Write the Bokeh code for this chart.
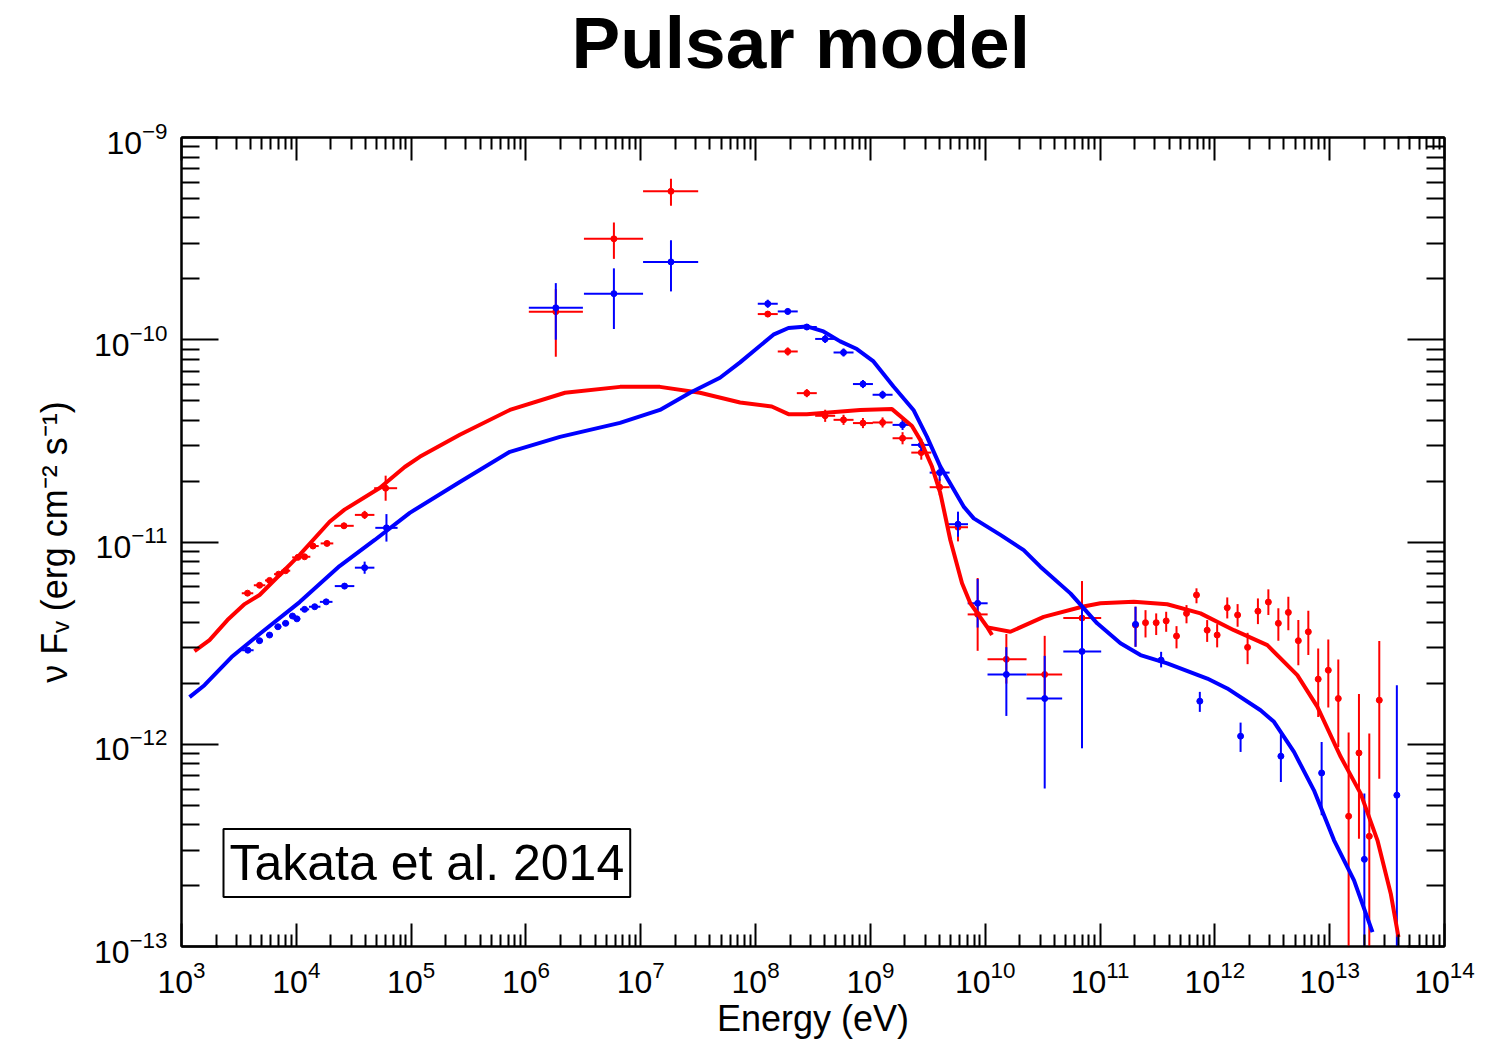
import numpy as np
from bokeh.plotting import figure
from bokeh.models import (FixedTicker, LogTickFormatter, LogAxis, Label)
from bokeh.embed import file_html
from bokeh.resources import INLINE

FONT = "Liberation Sans"
RED = "#FF0000"
BLUE = "#0000FF"

# ---------------- data (log10 values) ----------------
# X-ray (red)
xr_red_logE = [3.575, 3.68, 3.767, 3.846, 3.907, 4.014, 4.072, 4.145, 4.267, 4.415, 4.595, 4.778]
xr_red_logF = [-11.253, -11.214, -11.19, -11.159, -11.142, -11.076, -11.073, -11.02, -11.007, -10.92, -10.866, -10.734]
xr_red_dE = [0.05, 0.05, 0.04, 0.04, 0.04, 0.05, 0.05, 0.05, 0.055, 0.085, 0.085, 0.1]
xr_red_dF = [0.008, 0.008, 0.008, 0.008, 0.01, 0.01, 0.01, 0.012, 0.012, 0.015, 0.02, 0.062]
# X-ray (blue)
xr_blue_logE = [3.578, 3.68, 3.767, 3.84, 3.907, 3.967, 4.005, 4.072, 4.16, 4.26, 4.42, 4.595, 4.785]
xr_blue_logF = [-11.535, -11.488, -11.46, -11.419, -11.402, -11.366, -11.38, -11.333, -11.32, -11.296, -11.218, -11.127, -10.93]
xr_blue_dE = [0.05, 0.03, 0.03, 0.03, 0.03, 0.03, 0.03, 0.04, 0.05, 0.055, 0.085, 0.085, 0.097]
xr_blue_dF = [0.008, 0.008, 0.008, 0.008, 0.008, 0.008, 0.008, 0.01, 0.01, 0.012, 0.015, 0.03, 0.068]

# MeV
mev_logE = [6.26, 6.766, 7.263]
mev_logE_lo = [6.025, 6.505, 7.02]
mev_logE_hi = [6.496, 7.02, 7.5]
mev_red_logF = [-9.861, -9.501, -9.266]
mev_red_lo = [-10.084, -9.60, -9.337]
mev_red_hi = [-9.75, -9.42, -9.204]
mev_blue_logF = [-9.842, -9.772, -9.615]
mev_blue_lo = [-10.0, -9.947, -9.761]
mev_blue_hi = [-9.72, -9.647, -9.508]

# GeV
lat_logE = [8.106, 8.28, 8.446, 8.606, 8.766, 8.935, 9.106, 9.28, 9.443, 9.603, 9.763, 9.934]
lat_dE = [0.087, 0.087, 0.087, 0.087, 0.087, 0.087, 0.087, 0.087, 0.087, 0.087, 0.087, 0.087]
lat_blue_logF = [-9.822, -9.86, -9.937, -9.996, -10.063, -10.219, -10.272, -10.421, -10.52, -10.657, -10.912, -11.303]
lat_blue_dF = [0.02, 0.015, 0.015, 0.02, 0.02, 0.02, 0.02, 0.025, 0.03, 0.04, 0.062, 0.12]
lat_red_logF = [-9.873, -10.058, -10.264, -10.376, -10.396, -10.412, -10.409, -10.487, -10.558, -10.729, -10.927, -11.358]
lat_red_dF = [0.015, 0.02, 0.02, 0.03, 0.025, 0.025, 0.025, 0.03, 0.035, 0.04, 0.07, 0.18]

# high-energy GeV bins
hl_logE = [10.184, 10.518, 10.843]
hl_logE_lo = [10.02, 10.36, 10.68]
hl_logE_hi = [10.36, 10.67, 11.01]
hl_blue_logF = [-11.655, -11.774, -11.541]
hl_blue_lo = [-11.86, -12.219, -12.02]
hl_blue_hi = [-11.52, -11.563, -11.32]
hl_red_logF = [-11.58, -11.655, -11.376]
hl_red_lo = [-11.70, -11.78, -11.55]
hl_red_hi = [-11.455, -11.464, -11.193]

# TeV (red)
tev_red_logE = [11.309, 11.396, 11.489, 11.576, 11.666, 11.753, 11.84, 11.933, 12.02, 12.108, 12.198, 12.285,
                12.375, 12.466, 12.553, 12.64, 12.727, 12.814, 12.9, 12.988, 13.075, 13.165, 13.255, 13.345, 13.432]
tev_red_logF = [-11.411, -11.399, -11.399, -11.39, -11.465, -11.353, -11.262, -11.436, -11.46, -11.325, -11.361,
                -11.521, -11.342, -11.297, -11.402, -11.348, -11.488, -11.444, -11.678, -11.634, -11.774, -12.356,
                -12.043, -12.455, -11.782]
tev_red_lo = [-11.518, -11.472, -11.46, -11.444, -11.526, -11.402, -11.303, -11.494, -11.521, -11.378, -11.419,
              -11.604, -11.406, -11.361, -11.488, -11.436, -11.609, -11.559, -11.865, -11.818, -12.013, -13.5,
              -12.467, -13.5, -12.17]
tev_red_hi = [-11.32, -11.337, -11.353, -11.345, -11.416, -11.312, -11.229, -11.386, -11.406, -11.274, -11.307,
              -11.449, -11.279, -11.234, -11.328, -11.271, -11.386, -11.34, -11.526, -11.482, -11.581, -11.942,
              -11.752, -11.947, -11.49]
# TeV (blue)
tev_blue_logE = [11.309, 11.532, 11.869, 12.224, 12.575, 12.93, 13.302, 13.585]
tev_blue_logF = [-11.407, -11.584, -11.787, -11.96, -12.059, -12.142, -12.569, -12.252]
tev_blue_lo = [-11.518, -11.62, -11.84, -12.038, -12.187, -12.351, -13.5, -13.5]
tev_blue_hi = [-11.32, -11.543, -11.741, -11.893, -11.95, -11.989, -12.244, -11.708]

# Model curves
red_model1_logE = [3.113, 3.244, 3.40, 3.55, 3.68, 3.854, 4.029, 4.29, 4.42, 4.726, 4.944, 5.075, 5.424, 5.86,
                   6.34, 6.82, 7.167, 7.516, 7.865, 8.141, 8.286, 8.446, 8.911, 9.188, 9.362, 9.434, 9.536,
                   9.609, 9.696, 9.798, 9.87, 10.015, 10.059]
red_model1_logF = [-11.54, -11.485, -11.386, -11.307, -11.262, -11.163, -11.064, -10.90, -10.84, -10.733, -10.629,
                   -10.579, -10.47, -10.347, -10.262, -10.233, -10.233, -10.262, -10.31, -10.33, -10.368, -10.368,
                   -10.347, -10.343, -10.426, -10.495, -10.627, -10.758, -10.99, -11.204, -11.303, -11.419, -11.46]
red_model2_logE = [10.021, 10.219, 10.509, 10.844, 11.003, 11.294, 11.585, 11.875, 12.166, 12.457, 12.718, 12.893,
                   13.096, 13.27, 13.416, 13.532, 13.599]
red_model2_logF = [-11.422, -11.444, -11.37, -11.32, -11.303, -11.295, -11.308, -11.353, -11.436, -11.51, -11.658,
                   -11.815, -12.062, -12.244, -12.475, -12.739, -12.953]
blue_model_logE = [3.07, 3.2, 3.436, 3.68, 4.029, 4.377, 4.683, 4.988, 5.424, 5.86, 6.296, 6.819, 7.167, 7.429,
                   7.69, 7.865, 8.155, 8.286, 8.446, 8.591, 8.737, 8.882, 9.027, 9.201, 9.375, 9.492, 9.609, 9.812,
                   9.9, 10.132, 10.335, 10.48, 10.742, 10.975, 11.178, 11.352, 11.585, 11.934, 12.108, 12.398,
                   12.515, 12.689, 12.863, 13.038, 13.212, 13.373]
blue_model_logF = [-11.767, -11.708, -11.569, -11.455, -11.297, -11.119, -10.99, -10.856, -10.703, -10.554, -10.48,
                   -10.411, -10.347, -10.262, -10.188, -10.112, -9.975, -9.942, -9.934, -9.959, -10.008, -10.046,
                   -10.107, -10.231, -10.347, -10.479, -10.627, -10.825, -10.883, -10.965, -11.04, -11.122, -11.254,
                   -11.402, -11.501, -11.559, -11.6, -11.675, -11.724, -11.832, -11.889, -12.038, -12.228, -12.475,
                   -12.673, -12.929]

decades_x = list(range(3, 15))
decades_y = list(range(-13, -8))

# ---------------- figure ----------------
p = figure(width=1485, height=1051, x_axis_type="log", y_axis_type="log",
           x_range=(1e3, 1e14), y_range=(1e-13, 1e-9),
           output_backend="svg", toolbar_location=None,
           min_border_left=181, min_border_right=41, min_border_top=137, min_border_bottom=105)
p.background_fill_color = "white"
p.border_fill_color = "white"
p.outline_line_color = "black"
p.outline_line_width = 2
p.xgrid.visible = False
p.ygrid.visible = False

p.title.text = "Pulsar model"
p.title.text_font = FONT
p.title.text_font_style = "bold"
p.title.text_font_size = "73px"
p.title.text_color = "black"
p.title.align = "left"
p.title.offset = 390
p.title.standoff = -3

xmaj = [10.0 ** k for k in decades_x]
ymaj = [10.0 ** k for k in decades_y]
xmin = [m * 10.0 ** k for k in decades_x[:-1] for m in range(2, 10)]
ymin = [m * 10.0 ** k for k in decades_y[:-1] for m in range(2, 10)]
xticker = FixedTicker(ticks=xmaj, minor_ticks=xmin)
yticker = FixedTicker(ticks=ymaj, minor_ticks=ymin)


def style_axis(ax, maj, mnr, show_labels, size):
    ax.major_tick_in = maj
    ax.major_tick_out = 0
    ax.minor_tick_in = mnr
    ax.minor_tick_out = 0
    ax.major_tick_line_width = 2
    ax.minor_tick_line_width = 2
    ax.axis_line_width = 2
    ax.major_tick_line_color = "black"
    ax.minor_tick_line_color = "black"
    ax.axis_line_color = "black"
    if show_labels:
        ax.major_label_text_font = FONT
        ax.major_label_text_font_size = size
        ax.major_label_text_color = "black"
    else:
        ax.major_label_text_font_size = "0px"
        ax.major_label_text_color = None
        ax.major_label_standoff = 0


xa = p.xaxis[0]
xa.ticker = xticker
xa.formatter = LogTickFormatter()
style_axis(xa, 23, 12, True, "32px")
xa.major_label_standoff = 14
xa.axis_label = "Energy (eV)"
xa.axis_label_text_font = FONT
xa.axis_label_text_font_size = "36px"
xa.axis_label_text_font_style = "normal"
xa.axis_label_text_color = "black"
xa.axis_label_standoff = 2

ya = p.yaxis[0]
ya.ticker = yticker
ya.formatter = LogTickFormatter()
style_axis(ya, 37, 18, True, "32px")
ya.major_label_standoff = 14
ya.axis_label = "\u03bd F\u1d65 (erg cm\u207b\u00b2 s\u207b\u00b9)"
ya.axis_label_text_font = FONT
ya.axis_label_text_font_size = "36px"
ya.axis_label_text_font_style = "normal"
ya.axis_label_text_color = "black"
ya.axis_label_standoff = 16

# top axis: ticks only; its (blank) label reserves the gap between frame and title
top_ax = LogAxis(ticker=FixedTicker(ticks=xmaj, minor_ticks=xmin))
style_axis(top_ax, 23, 12, False, "0px")
top_ax.axis_label = " "
top_ax.axis_label_text_font_size = "10px"
top_ax.axis_label_standoff = 42
p.add_layout(top_ax, "above")
right_ax = LogAxis(ticker=FixedTicker(ticks=ymaj, minor_ticks=ymin))
style_axis(right_ax, 37, 18, False, "0px")
p.add_layout(right_ax, "right")


def pw(a):
    return 10.0 ** np.asarray(a, dtype=float)


def draw_points(logE, logF, E_lo, E_hi, F_lo, F_hi, color, size=6):
    E = pw(logE)
    F = pw(logF)
    p.segment(x0=pw(E_lo), y0=F, x1=pw(E_hi), y1=F, line_color=color, line_width=2)
    p.segment(x0=E, y0=pw(F_lo), x1=E, y1=pw(F_hi), line_color=color, line_width=2)
    p.scatter(E, F, size=size, color=color, marker="circle")


def sym(c, d):
    c = np.asarray(c, dtype=float)
    d = np.asarray(d, dtype=float)
    return c - d, c + d


# X-ray
lo, hi = sym(xr_red_logE, xr_red_dE)
flo, fhi = sym(xr_red_logF, xr_red_dF)
draw_points(xr_red_logE, xr_red_logF, lo, hi, flo, fhi, RED)
lo, hi = sym(xr_blue_logE, xr_blue_dE)
flo, fhi = sym(xr_blue_logF, xr_blue_dF)
draw_points(xr_blue_logE, xr_blue_logF, lo, hi, flo, fhi, BLUE)

# MeV
draw_points(mev_logE, mev_red_logF, mev_logE_lo, mev_logE_hi, mev_red_lo, mev_red_hi, RED)
draw_points(mev_logE, mev_blue_logF, mev_logE_lo, mev_logE_hi, mev_blue_lo, mev_blue_hi, BLUE)

# GeV
lo, hi = sym(lat_logE, lat_dE)
flo, fhi = sym(lat_red_logF, lat_red_dF)
draw_points(lat_logE, lat_red_logF, lo, hi, flo, fhi, RED)
flo, fhi = sym(lat_blue_logF, lat_blue_dF)
draw_points(lat_logE, lat_blue_logF, lo, hi, flo, fhi, BLUE)

draw_points(hl_logE, hl_red_logF, hl_logE_lo, hl_logE_hi, hl_red_lo, hl_red_hi, RED)
draw_points(hl_logE, hl_blue_logF, hl_logE_lo, hl_logE_hi, hl_blue_lo, hl_blue_hi, BLUE)

# TeV
draw_points(tev_red_logE, tev_red_logF, tev_red_logE, tev_red_logE, tev_red_lo, tev_red_hi, RED)
draw_points(tev_blue_logE, tev_blue_logF, tev_blue_logE, tev_blue_logE, tev_blue_lo, tev_blue_hi, BLUE)

# model curves
p.line(pw(red_model1_logE), pw(red_model1_logF), line_color=RED, line_width=4)
p.line(pw(red_model2_logE), pw(red_model2_logF), line_color=RED, line_width=4)
p.line(pw(blue_model_logE), pw(blue_model_logF), line_color=BLUE, line_width=4)

# reference box
ref = Label(x=42, y=83.5, x_units="screen", y_units="screen", text="Takata et al. 2014",
            text_font=FONT, text_font_size="50px", text_align="left", text_baseline="middle",
            text_color="black", border_line_color="black", border_line_width=2,
            background_fill_color="white", padding=6)
p.add_layout(ref)

open("out.html", "w").write(file_html(p, INLINE))
